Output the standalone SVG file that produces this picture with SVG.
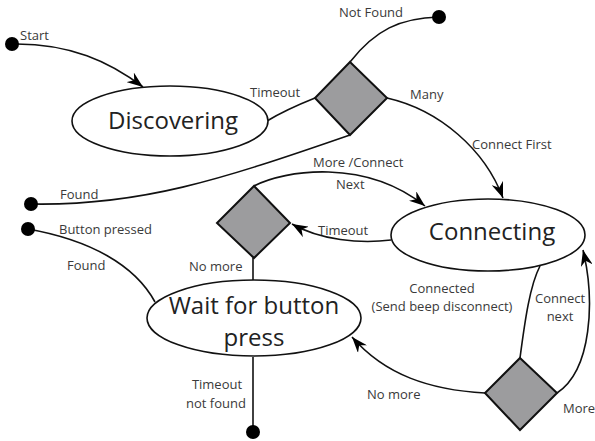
<svg xmlns="http://www.w3.org/2000/svg" width="595" height="441" viewBox="0 0 595 441">
<style>
.edge{fill:none;stroke:#111;stroke-width:1.6}
.state{fill:#fff;stroke:#111;stroke-width:1.6}
.dia{fill:#9c9c9e;stroke:#111;stroke-width:2}
.dot{fill:#000}
.lbl{font-family:"Open Sans","Liberation Sans",sans-serif;font-size:13px;fill:#3a3a3a}
.big{font-family:"Open Sans","Liberation Sans",sans-serif;font-size:24px;fill:#222;text-anchor:middle}
</style>
<defs>
<marker id="arr" viewBox="0 0 16 12" refX="16" refY="6" markerWidth="16" markerHeight="12" markerUnits="userSpaceOnUse" orient="auto">
<path d="M0,0 L16,6 L0,12 L5,6 Z" fill="#000"/>
</marker>
</defs>
<rect width="595" height="441" fill="#fff"/>
<g id="connectors">
<path class="edge" d="M12,44 C70,43 110,62 143,87" marker-end="url(#arr)"/>
<path class="edge" d="M267,121 C285,110 300,104 315,98"/>
<path class="edge" d="M350,62 C375,30 400,18 439,17"/>
<path class="edge" d="M31,204 C140,206 220,180 350,135"/>
<path class="edge" d="M387,98 C440,110 485,150 503,198" marker-end="url(#arr)"/>
<path class="edge" d="M254,186 C285,170 365,158 425,206" marker-end="url(#arr)"/>
<path class="edge" d="M391,240 C360,244 320,240 292,224" marker-end="url(#arr)"/>
<path class="edge" d="M253,258 L253,280"/>
<path class="edge" d="M28,229 C90,240 135,265 155,302"/>
<path class="edge" d="M253,357 L253,432"/>
<path class="edge" d="M520,358 C525,320 530,285 540,266"/>
<path class="edge" d="M557,393 C592,370 595,300 583,250" marker-end="url(#arr)"/>
<path class="edge" d="M485,393 C430,390 385,375 352,337" marker-end="url(#arr)"/>
</g>
<g id="start"><circle class="dot" cx="12" cy="44" r="7"/></g>
<g id="notfound-end"><circle class="dot" cx="439" cy="17" r="7"/></g>
<g id="found-start"><circle class="dot" cx="31" cy="204" r="7"/></g>
<g id="button-start"><circle class="dot" cx="28" cy="229" r="7"/></g>
<g id="timeout-end"><circle class="dot" cx="253" cy="432" r="7"/></g>
<g id="discovering">
<ellipse class="state" cx="170" cy="121" rx="98" ry="35"/>
<text class="big" x="173" y="129">Discovering</text>
</g>
<g id="decision-discover"><path class="dia" d="M350,62 L387,98 L350,135 L315,98 Z"/></g>
<g id="connecting">
<ellipse class="state" cx="488" cy="235" rx="97" ry="36"/>
<text class="big" x="492" y="240">Connecting</text>
</g>
<g id="decision-timeout"><path class="dia" d="M254,186 L290,223 L254,258 L217,223 Z"/></g>
<g id="wait">
<ellipse class="state" cx="254" cy="318" rx="107" ry="38"/>
<text class="big" x="254" y="314">Wait for button</text>
<text class="big" x="254" y="346">press</text>
</g>
<g id="decision-connected"><path class="dia" d="M520,358 L557,393 L520,430 L485,393 Z"/></g>
<g id="labels">
<text class="lbl" x="20" y="40">Start</text>
<text class="lbl" x="250" y="97">Timeout</text>
<text class="lbl" x="339" y="17">Not Found</text>
<text class="lbl" x="410" y="99">Many</text>
<text class="lbl" x="472" y="149">Connect First</text>
<text class="lbl" x="313" y="167">More /Connect</text>
<text class="lbl" x="336" y="189">Next</text>
<text class="lbl" x="60" y="199">Found</text>
<text class="lbl" x="59" y="234">Button pressed</text>
<text class="lbl" x="67" y="270">Found</text>
<text class="lbl" x="189" y="271">No more</text>
<text class="lbl" x="318" y="235">Timeout</text>
<text class="lbl" x="442" y="293" text-anchor="middle">Connected</text>
<text class="lbl" x="442" y="311" text-anchor="middle">(Send beep disconnect)</text>
<text class="lbl" x="560" y="303" text-anchor="middle">Connect</text>
<text class="lbl" x="560" y="321" text-anchor="middle">next</text>
<text class="lbl" x="367" y="399">No more</text>
<text class="lbl" x="563" y="413">More</text>
<text class="lbl" x="217" y="389" text-anchor="middle">Timeout</text>
<text class="lbl" x="216" y="408" text-anchor="middle">not found</text>
</g>
</svg>
